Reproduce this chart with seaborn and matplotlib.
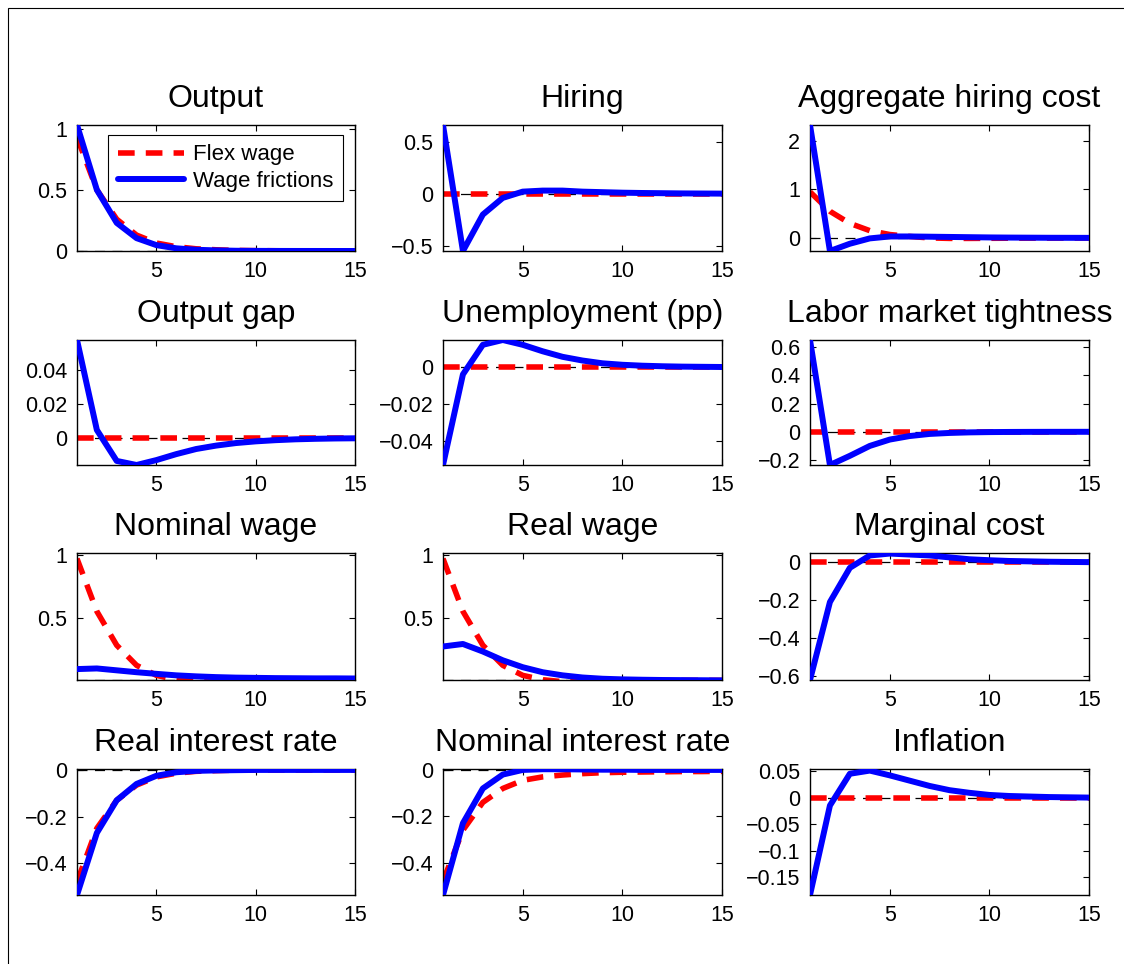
import numpy as np
import pandas as pd
import matplotlib
matplotlib.use("Agg")
import matplotlib.pyplot as plt
from matplotlib.patches import Rectangle
from matplotlib.ticker import FuncFormatter
import seaborn as sns

# Impulse responses, periods 1..15
periods = list(range(1, 16))

titles = [
    "Output", "Hiring", "Aggregate hiring cost",
    "Output gap", "Unemployment (pp)", "Labor market tightness",
    "Nominal wage", "Real wage", "Marginal cost",
    "Real interest rate", "Nominal interest rate", "Inflation",
]

flex_output = [0.93, 0.50, 0.26, 0.13, 0.065, 0.035, 0.018, 0.010, 0.005, 0.003, 0.002, 0.001, 0.0005, 0.0003, 0.0002]
fric_output = [1.03, 0.50, 0.23, 0.105, 0.048, 0.022, 0.010, 0.005, 0.002, 0.001, 0.0005, 0.0003, 0.0002, 0.0001, 0.0]

flex_hiring = [0.0] * 15
fric_hiring = [0.66, -0.55, -0.20, -0.04, 0.02, 0.03, 0.03, 0.02, 0.015, 0.01, 0.007, 0.005, 0.003, 0.002, 0.001]

flex_hcost = [0.95, 0.55, 0.30, 0.15, 0.07, 0.03, 0.0, -0.01, -0.01, -0.008, -0.006, -0.004, -0.003, -0.002, -0.001]
fric_hcost = [2.33, -0.27, -0.12, -0.01, 0.03, 0.03, 0.025, 0.02, 0.015, 0.01, 0.007, 0.005, 0.003, 0.002, 0.001]

flex_gap = [0.0] * 15
fric_gap = [0.0576, 0.0047, -0.0135, -0.0159, -0.013, -0.0095, -0.0065, -0.0045, -0.003, -0.002, -0.0013, -0.0008, -0.0005, -0.0003, -0.0002]

flex_unemp = [0.0] * 15
fric_unemp = [-0.053, -0.004, 0.012, 0.0146, 0.012, 0.0085, 0.0055, 0.0035, 0.002, 0.0012, 0.0007, 0.0004, 0.0002, 0.0001, 0.0]

flex_tight = [0.0] * 15
fric_tight = [0.65, -0.235, -0.17, -0.10, -0.055, -0.03, -0.015, -0.008, -0.004, -0.002, -0.001, -0.0005, -0.0002, -0.0001, 0.0]

flex_nwage = [0.97, 0.55, 0.28, 0.12, 0.04, 0.005, -0.005, -0.005, -0.004, -0.003, -0.002, -0.001, -0.001, 0.0, 0.0]
fric_nwage = [0.09, 0.095, 0.08, 0.065, 0.052, 0.04, 0.032, 0.026, 0.022, 0.02, 0.018, 0.017, 0.016, 0.016, 0.015]

flex_rwage = [0.97, 0.55, 0.28, 0.12, 0.04, 0.005, -0.01, -0.01, -0.008, -0.006, -0.004, -0.002, -0.001, 0.0, 0.0]
fric_rwage = [0.27, 0.29, 0.23, 0.16, 0.105, 0.065, 0.04, 0.023, 0.013, 0.008, 0.005, 0.003, 0.002, 0.001, 0.0]

flex_mc = [0.0] * 15
fric_mc = [-0.62, -0.21, -0.03, 0.035, 0.045, 0.04, 0.035, 0.025, 0.015, 0.01, 0.006, 0.004, 0.002, 0.001, 0.0]

flex_rrate = [-0.48, -0.25, -0.13, -0.065, -0.03, -0.014, -0.006, -0.003, -0.001, 0.0, 0.0, 0.0, 0.0, 0.0, 0.0]
fric_rrate = [-0.536, -0.27, -0.13, -0.06, -0.025, -0.01, -0.004, -0.002, -0.001, 0.0, 0.0, 0.0, 0.0, 0.0, 0.0]

flex_nrate = [-0.48, -0.26, -0.14, -0.08, -0.045, -0.03, -0.022, -0.016, -0.012, -0.010, -0.009, -0.008, -0.007, -0.007, -0.006]
fric_nrate = [-0.54, -0.23, -0.08, -0.02, 0.0, 0.003, 0.003, 0.002, 0.001, 0.001, 0.0, 0.0, 0.0, 0.0, 0.0]

flex_infl = [0.0] * 15
fric_infl = [-0.184, -0.015, 0.045, 0.051, 0.042, 0.032, 0.022, 0.014, 0.009, 0.005, 0.003, 0.002, 0.001, 0.0005, 0.0]

flex_series = [flex_output, flex_hiring, flex_hcost, flex_gap, flex_unemp, flex_tight,
               flex_nwage, flex_rwage, flex_mc, flex_rrate, flex_nrate, flex_infl]
fric_series = [fric_output, fric_hiring, fric_hcost, fric_gap, fric_unemp, fric_tight,
               fric_nwage, fric_rwage, fric_mc, fric_rrate, fric_nrate, fric_infl]

y_limits = [(0.0, 1.03), (-0.55, 0.66), (-0.27, 2.33),
            (-0.0159, 0.0576), (-0.053, 0.0146), (-0.235, 0.65),
            (0.003, 1.015), (0.003, 1.015), (-0.62, 0.048),
            (-0.536, 0.004), (-0.54, 0.004), (-0.184, 0.054)]
y_ticks = [[0, 0.5, 1], [-0.5, 0, 0.5], [0, 1, 2],
           [0, 0.02, 0.04], [-0.04, -0.02, 0], [-0.2, 0, 0.2, 0.4, 0.6],
           [0.5, 1], [0.5, 1], [-0.6, -0.4, -0.2, 0],
           [-0.4, -0.2, 0], [-0.4, -0.2, 0], [-0.15, -0.1, -0.05, 0, 0.05]]
x_ticks = [5, 10, 15]

sns.set_theme(style="white", rc={
    "xtick.direction": "in", "ytick.direction": "in",
    "xtick.top": True, "ytick.right": True,
    "xtick.bottom": True, "ytick.left": True,
    "xtick.major.size": 4, "ytick.major.size": 4,
    "xtick.major.width": 0.8, "ytick.major.width": 0.8,
    "axes.edgecolor": "black", "axes.linewidth": 1.0,
    "xtick.color": "black", "ytick.color": "black",
    "xtick.labelcolor": "black", "ytick.labelcolor": "black",
    "text.color": "black", "axes.titlecolor": "black", "axes.labelcolor": "black",
    "axes.unicode_minus": True,
})
plt.rcParams["font.family"] = ["Liberation Sans", "DejaVu Sans"]

W, H = 1124, 964
fig = plt.figure(figsize=(W / 100, H / 100), dpi=100)

col_x = [(77, 355), (443, 722), (810, 1089)]
row_y = [(125, 251), (340, 465), (553, 680), (769, 895)]

fmt = FuncFormatter(lambda v, p: ("%g" % v).replace("-", "\u2212"))

for i, title in enumerate(titles):
    r, c = divmod(i, 3)
    x0, x1 = col_x[c]
    y0, y1 = row_y[r]
    ax = fig.add_axes([x0 / W, 1 - y1 / H, (x1 - x0) / W, (y1 - y0) / H])

    df = pd.DataFrame({"period": periods, "flex": flex_series[i], "fric": fric_series[i]})

    ax.axhline(0, color="black", lw=0.9, dashes=(8, 6), zorder=1)
    sns.lineplot(data=df, x="period", y="flex", ax=ax, color="#ff0000", lw=4,
                 linestyle=(0, (3, 2)), label="Flex wage", zorder=2)
    sns.lineplot(data=df, x="period", y="fric", ax=ax, color="#0000ff", lw=4.3,
                 label="Wage frictions", zorder=3)

    ax.set_xlim(1, 15)
    ax.set_ylim(*y_limits[i])
    ax.set_xticks(x_ticks)
    ax.set_yticks(y_ticks[i])
    ax.yaxis.set_major_formatter(fmt)
    ax.set_xlabel("")
    ax.set_ylabel("")
    ax.tick_params(labelsize=15.5, pad=7)
    ax.set_title(title, fontsize=23, pad=13, color="black")

    if i == 0:
        leg = ax.legend(loc="upper right", bbox_to_anchor=(0.957, 0.92), borderaxespad=0,
                        fontsize=16, frameon=True, fancybox=False, edgecolor="black",
                        framealpha=1, handlelength=3.0, borderpad=0.42,
                        labelspacing=0.25, handletextpad=0.4)
        leg.get_frame().set_linewidth(0.8)
    elif ax.get_legend() is not None:
        ax.get_legend().remove()

# outer frame along the top and left edges
fig.patches.append(Rectangle((8 / W, -0.2), 2.0, 1.2 - 8 / H, fill=False,
                             edgecolor="black", lw=0.8, transform=fig.transFigure))

fig.savefig("out.png", dpi=100)
